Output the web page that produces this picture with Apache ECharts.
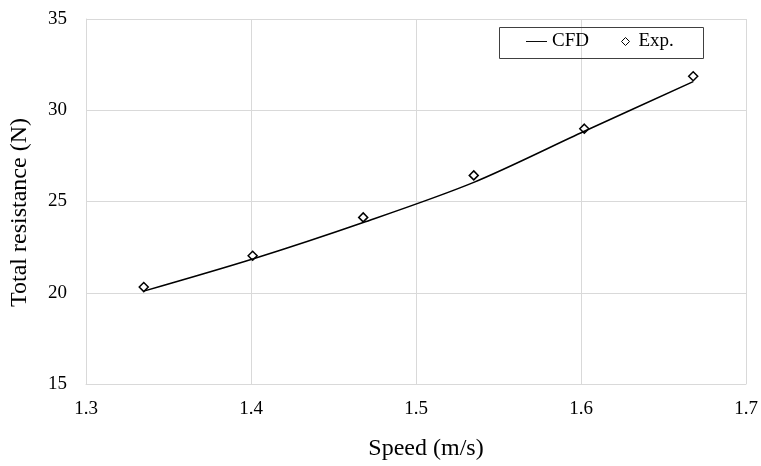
<!DOCTYPE html>
<html>
<head>
<meta charset="utf-8">
<script src="https://cdn.jsdelivr.net/npm/echarts@6/dist/echarts.min.js"></script>
<style>html,body{margin:0;padding:0;background:#fff}#c{width:761px;height:466px}</style>
</head>
<body>
<div id="c"></div>
<script>
const speed = [1.335, 1.401, 1.468, 1.535, 1.602, 1.668];
const cfd = [20.09, 21.85, 23.85, 26.05, 28.85, 31.57];
const exp = [20.31, 22.03, 24.13, 26.43, 28.99, 31.86];
const xTicks = [1.3, 1.4, 1.5, 1.6, 1.7];
const yTicks = [15, 20, 25, 30, 35];

const font = '"Liberation Serif", "Times New Roman", serif';
const legendText = {fontFamily: font, fontSize: 19, color: '#000'};
const chart = echarts.init(document.getElementById('c'), null, {renderer: 'canvas'});
chart.setOption({
  backgroundColor: '#fff',
  animation: false,
  textStyle: {fontFamily: font, color: '#000'},
  grid: {left: 86, right: 15, top: 19, bottom: 80},
  graphic: [{
    type: 'rect', left: 497, top: 25, z: 100,
    shape: {width: 204, height: 31},
    style: {fill: 'none', stroke: '#404040', lineWidth: 1}
  }],
  legend: [
    {
      left: 526, top: 32, padding: 0,
      itemWidth: 21, itemHeight: 8,
      textStyle: legendText,
      data: [{name: 'CFD', icon: 'path://M0,0 L22,0 L22,1 L0,1 Z', itemStyle: {color: '#000'}}]
    },
    {
      left: 621, top: 32, padding: 0,
      itemWidth: 8, itemHeight: 8,
      textStyle: Object.assign({padding: [0, 0, 0, 4]}, legendText),
      data: [{name: 'Exp.', icon: 'diamond',
        itemStyle: {color: '#fff', borderColor: '#000', borderWidth: 1}}]
    }
  ],
  xAxis: {
    type: 'value',
    min: xTicks[0], max: xTicks[xTicks.length - 1], interval: 0.1,
    name: 'Speed (m/s)', nameLocation: 'middle', nameGap: 53,
    nameTextStyle: {fontFamily: font, fontSize: 24, color: '#000', padding: [0, 0, 0, 20]},
    axisLine: {show: true, lineStyle: {color: '#d9d9d9', width: 1}},
    axisTick: {show: false},
    axisLabel: {fontFamily: font, fontSize: 19, color: '#000', margin: 16,
      formatter: v => v.toFixed(1)},
    splitLine: {show: true, lineStyle: {color: '#d9d9d9', width: 1}}
  },
  yAxis: {
    type: 'value',
    min: yTicks[0], max: yTicks[yTicks.length - 1], interval: 5,
    name: 'Total resistance (N)', nameLocation: 'middle', nameGap: 54,
    nameTextStyle: {fontFamily: font, fontSize: 24, color: '#000', padding: [0, 22, 0, 0]},
    axisLine: {show: true, lineStyle: {color: '#d9d9d9', width: 1}},
    axisTick: {show: false},
    axisLabel: {fontFamily: font, fontSize: 19, color: '#000', margin: 19},
    splitLine: {show: true, lineStyle: {color: '#d9d9d9', width: 1}}
  },
  series: [
    {
      name: 'CFD', type: 'line',
      data: speed.map((s, i) => [s, cfd[i]]),
      smooth: 0.3, symbol: 'none',
      lineStyle: {color: '#000', width: 1.5},
      itemStyle: {color: '#000'}
    },
    {
      name: 'Exp.', type: 'scatter',
      data: speed.map((s, i) => [s, exp[i]]),
      symbol: 'diamond', symbolSize: 9,
      itemStyle: {color: '#fff', borderColor: '#000', borderWidth: 1.5, opacity: 1}
    }
  ]
});
</script>
</body>
</html>
